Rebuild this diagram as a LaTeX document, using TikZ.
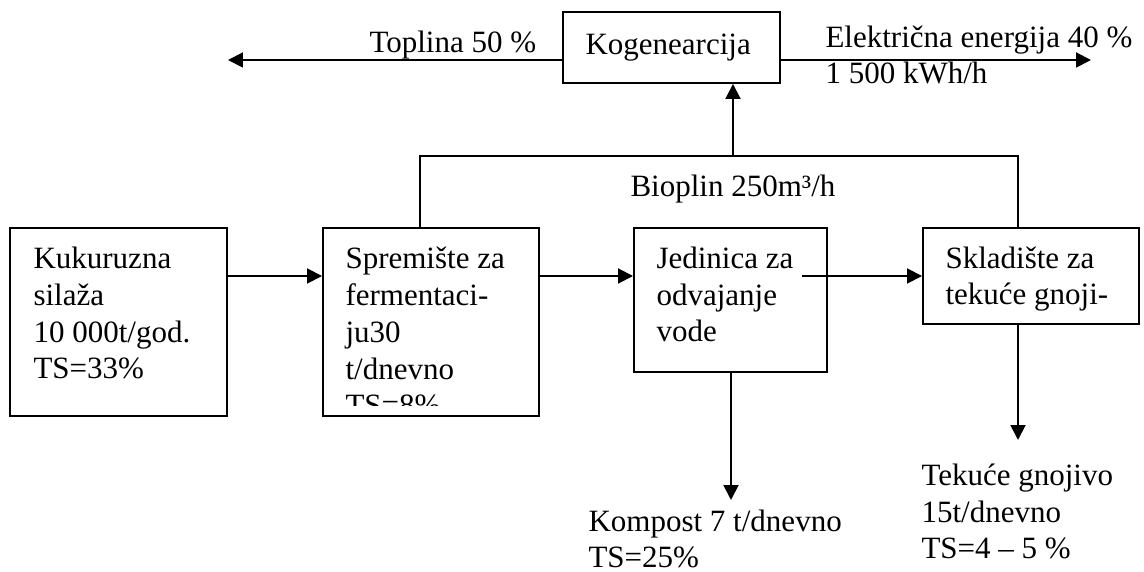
\documentclass[tikz,border=0pt]{standalone}
\usepackage{fontspec}
\setmainfont{Liberation Serif}
\usetikzlibrary{arrows.meta,fit}

\begin{document}
\begin{tikzpicture}[x=0.387pt,y=-0.387pt,
	box/.style={draw=black,line width=0.75pt,inner sep=0pt},
	txt/.style={inner sep=0pt,anchor=base west,align=left,font=\fontsize{12}{14.3}\selectfont},
	flow/.style={black,line width=0.75pt,-{Triangle[length=5.8pt,width=5.8pt]}}]
	\useasboundingbox (0,0) rectangle (1144,572);

	\node[box,fit={(563,12) (780,83)}] (kog) {};
	\node[box,fit={(10,228) (227,416)}] (silaza) {};
	\node[box,fit={(323,228) (539,416)}] (ferm) {};
	\node[box,fit={(634,228) (827,372)}] (sep) {};
	\node[box,fit={(923,228) (1139,324)}] (sklad) {};

	\node[txt] (kogtxt) at (585,55) {Kogenearcija};
	\node[txt] (toplina) at (369,53) {Toplina 50 \%};
	\node[txt] (elektr) at (825,84) {Električna energija 40 \%\\1 500 kWh/h};
	\node[txt] (bioplin) at (630,197) {Bioplin 250m³/h};
	\node[txt] (silazatxt) at (33,379) {Kukuruzna\\silaža\\10 000t/god.\\TS=33\%};
	\begin{scope}
		\clip (323,228) rectangle (539,406);
		\node[txt] (fermtxt) at (345,416) {Spremište za\\fermentaci-\\ju30\\t/dnevno\\TS=8\%};
	\end{scope}
	\node[txt] (septxt) at (656,342) {Jedinica za\\odvajanje\\vode};
	\node[txt] (skladtxt) at (945,305) {Skladište za\\tekuće gnoji-};
	\node[txt] (kompost) at (588,568) {Kompost 7 t/dnevno\\TS=25\%};
	\node[txt] (gnojivo) at (921,559) {Tekuće gnojivo\\15t/dnevno\\TS=4 \textendash{} 5 \%};

	\coordinate (heatend) at (228,60);
	\coordinate (elend) at (1091,60);
	\coordinate (bioL) at (420,156);
	\coordinate (bioR) at (1018,156);
	\coordinate (bioup) at (733,156);
	\coordinate (row) at (0,276);
	\coordinate (sepout) at (802,276);
	\coordinate (kompend) at (731,500);
	\coordinate (gnojend) at (1018,440);

	\draw[flow] (kog.west |- heatend) -- (heatend);
	\draw[flow] (kog.east |- elend) -- (elend);
	\draw[black,line width=0.75pt] (ferm.north -| bioL) -- (bioL) -- (bioR) -- (sklad.north -| bioR);
	\draw[flow] (bioup) -- (bioup |- kog.south);
	\draw[flow] (silaza.east |- row) -- (ferm.west |- row);
	\draw[flow] (ferm.east |- row) -- (sep.west |- row);
	\draw[flow] (sepout) -- (sklad.west |- sepout);
	\draw[flow] (sep.south -| kompend) -- (kompend);
	\draw[flow] (sklad.south -| gnojend) -- (gnojend);
\end{tikzpicture}
\end{document}
